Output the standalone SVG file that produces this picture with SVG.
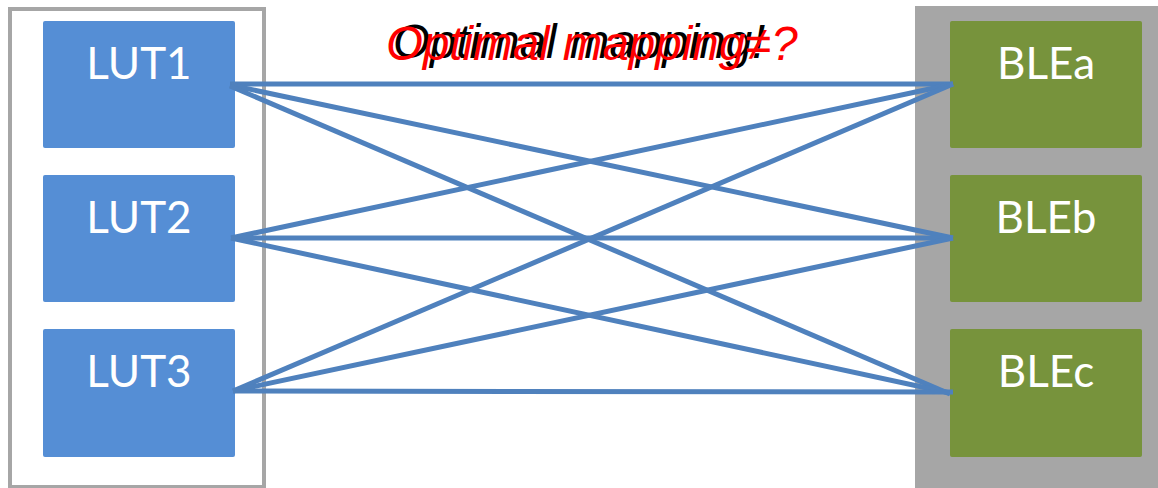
<svg xmlns="http://www.w3.org/2000/svg" width="1158" height="488" viewBox="0 0 1158 488">
<style>
.lut{fill:#558ed5}
.ble{fill:#77933c}
.lbl{font-family:Lato,"Open Sans","Liberation Sans",sans-serif;font-size:44px;fill:#ffffff;text-anchor:middle}
.conn line{stroke:#4f81bd;stroke-width:5;stroke-linecap:butt}
</style>
<rect width="1158" height="488" fill="#ffffff"/>
<g id="lut-container"><rect x="10" y="9" width="254" height="478" fill="none" stroke="#a6a6a6" stroke-width="4"/></g>
<g id="ble-container"><rect x="915" y="6" width="243" height="482" fill="#a6a6a6"/></g>
<g id="LUT1"><rect class="lut" x="43" y="21" width="192" height="127" rx="2"/><text class="lbl" x="139" y="79">LUT1</text></g>
<g id="LUT2"><rect class="lut" x="43" y="175" width="192" height="127" rx="2"/><text class="lbl" x="139" y="233">LUT2</text></g>
<g id="LUT3"><rect class="lut" x="43" y="329" width="192" height="128" rx="2"/><text class="lbl" x="139" y="387">LUT3</text></g>
<g id="BLEa"><rect class="ble" x="950" y="21" width="192" height="127" rx="2"/><text class="lbl" x="1046" y="79">BLEa</text></g>
<g id="BLEb"><rect class="ble" x="950" y="175" width="192" height="127" rx="2"/><text class="lbl" x="1046" y="233">BLEb</text></g>
<g id="BLEc"><rect class="ble" x="950" y="329" width="192" height="128" rx="2"/><text class="lbl" x="1046" y="387">BLEc</text></g>
<g id="connectors" class="conn">
<line x1="230" y1="84" x2="953" y2="84"/>
<line x1="230" y1="85" x2="953" y2="238"/>
<line x1="230" y1="86" x2="950" y2="394"/>
<line x1="231" y1="238" x2="953" y2="84"/>
<line x1="231" y1="238" x2="953" y2="238"/>
<line x1="231" y1="238" x2="950" y2="393"/>
<line x1="233" y1="391" x2="953" y2="84"/>
<line x1="233" y1="391" x2="953" y2="238"/>
<line x1="233" y1="391" x2="953" y2="392"/>
</g>
<g id="title">
<text x="393" y="58" font-family="Liberation Sans, Arial, sans-serif" font-style="italic" font-size="47.5" fill="#000000">Optimal mapping!</text>
<text x="386" y="60" font-family="Liberation Sans, Arial, sans-serif" font-style="italic" font-size="47.5" fill="#ff0000">Optimal mapping≠?</text>
</g>
</svg>
